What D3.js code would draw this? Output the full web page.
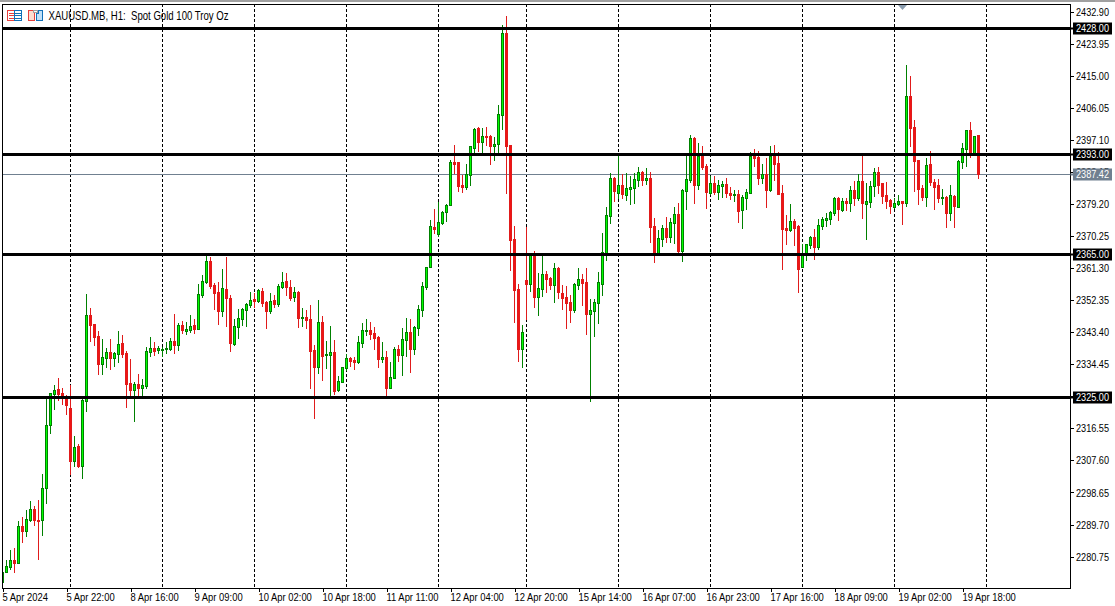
<!DOCTYPE html>
<html>
<head>
  <script src="https://d3js.org/d3.v7.js"></script>
  <style>
    html, body {
      margin: 0px;
      padding: 0px;
      background: #ffffff;
      overflow: hidden;
    }

    text {
      font-family: "Liberation Sans", Arial, sans-serif;
      font-size: 11px;
      fill: #000000;
    }

    .axis path { display: none; }
    .axis line { stroke: #000000; shape-rendering: crispEdges; }
    .axis text { font-family: "Liberation Sans", Arial, sans-serif; font-size: 11px; }
  </style>
</head>
<body>
  <div id="chart"></div>
  <script>

      /*
      DATA: hourly XAUUSD candles
      */
      const opens = [
        2273.5,2276.3,2277.7,2279.7,2278.8,2289.2,2287.8,2290.8,2293.9,2290.8,
        2290.8,2299.8,2317.4,2326.0,2327.4,2326.3,2324.9,2322.1,2307.3,2311.5,
        2305.9,2324.0,2348.0,2345.6,2342.2,2334.4,2336.1,2337.7,2336.1,2337.2,
        2340.2,2337.4,2329.1,2327.1,2328.8,2327.7,2328.2,2337.7,2338.8,2338.3,
        2338.3,2338.6,2338.6,2340.8,2339.7,2345.3,2343.6,2343.9,2345.3,2344.1,
        2353.6,2357.3,2363.1,2356.4,2354.5,2349.2,2355.3,2352.8,2340.0,2344.7,
        2346.9,2349.5,2350.8,2352.5,2352.0,2354.8,2351.7,2349.2,2352.2,2351.1,
        2355.9,2357.5,2355.9,2353.1,2354.5,2347.2,2347.5,2346.9,2338.3,2333.5,
        2346.1,2336.9,2336.9,2337.7,2327.1,2329.4,2333.3,2336.1,2335.5,2335.0,
        2340.2,2343.6,2343.9,2343.0,2341.9,2335.8,2336.3,2327.7,2330.5,2338.6,
        2336.9,2341.1,2343.3,2338.6,2344.4,2349.5,2355.9,2361.5,2372.6,2370.7,
        2373.7,2376.8,2378.8,2390.8,2390.8,2384.3,2383.8,2387.1,2394.7,2400.2,
        2396.3,2398.0,2398.0,2395.2,2395.8,2403.9,2426.8,2395.5,2369.3,2355.3,
        2338.6,2357.8,2356.7,2364.8,2353.1,2355.3,2359.5,2358.4,2356.4,2361.2,
        2354.2,2353.1,2351.7,2349.5,2356.4,2358.1,2357.3,2348.3,2349.2,2351.4,
        2356.7,2365.4,2375.7,2386.3,2382.1,2384.3,2381.5,2383.2,2383.5,2385.7,
        2388.0,2385.7,2386.3,2372.9,2365.4,2369.3,2372.3,2369.8,2373.7,2376.2,
        2365.9,2382.7,2385.7,2397.5,2384.3,2392.4,2389.6,2382.1,2384.9,2382.4,
        2384.1,2384.6,2382.1,2381.5,2381.8,2377.4,2380.7,2382.1,2392.4,2392.2,
        2386.3,2387.4,2382.9,2392.4,2390.5,2382.1,2372.3,2371.8,2374.3,2372.9,
        2361.5,2365.1,2367.6,2369.8,2367.0,2372.9,2374.6,2374.8,2376.5,2380.7,
        2377.4,2379.9,2379.3,2382.9,2380.7,2385.5,2379.0,2379.6,2384.1,2388.0,
        2384.9,2381.5,2380.2,2378.2,2379.0,2379.9,2379.3,2409.2,2400.5,2391.3,
        2383.5,2381.0,2390.2,2385.2,2384.3,2380.7,2381.0,2376.5,2381.3,2378.2,
        2390.8,2394.4,2399.7,2393.3,2398.3
      ];
      const highs = [
        2276.6,2279.7,2282.5,2283.0,2290.6,2291.7,2293.6,2296.1,2294.7,2296.4,
        2303.7,2324.6,2326.3,2328.5,2330.5,2327.7,2325.7,2328.5,2314.3,2312.0,
        2324.6,2353.9,2350.0,2345.6,2343.6,2341.4,2338.8,2341.4,2337.7,2343.6,
        2342.5,2338.0,2335.8,2329.4,2331.6,2330.2,2339.1,2341.9,2340.5,2339.4,
        2339.1,2340.5,2341.6,2348.3,2345.8,2346.4,2346.1,2348.0,2346.9,2356.7,
        2359.2,2364.8,2364.2,2357.0,2357.3,2360.9,2364.2,2353.6,2346.9,2349.7,
        2350.0,2351.4,2354.5,2354.2,2355.3,2355.6,2352.0,2354.2,2353.6,2356.7,
        2360.1,2359.8,2357.8,2355.9,2354.8,2350.0,2349.5,2350.8,2339.7,2352.2,
        2347.8,2340.8,2345.0,2341.1,2331.0,2333.5,2337.2,2336.3,2336.3,2342.2,
        2345.8,2346.9,2346.1,2344.7,2342.2,2340.5,2338.0,2335.0,2339.1,2339.7,
        2344.4,2347.2,2346.9,2345.0,2350.8,2357.3,2361.5,2374.6,2377.6,2379.6,
        2377.1,2379.0,2391.3,2395.5,2390.8,2387.1,2390.2,2395.2,2400.2,2400.5,
        2400.2,2400.5,2398.3,2397.7,2406.7,2429.0,2431.5,2395.5,2372.9,2356.7,
        2345.3,2372.6,2365.4,2365.9,2359.8,2364.8,2360.3,2358.7,2362.6,2361.5,
        2356.4,2356.2,2353.6,2357.0,2361.2,2359.5,2361.2,2352.5,2352.5,2360.1,
        2371.0,2378.2,2387.7,2386.6,2392.7,2387.4,2387.7,2386.8,2387.7,2389.4,
        2388.2,2389.1,2388.0,2375.1,2371.8,2373.2,2375.4,2375.1,2378.2,2379.3,
        2383.2,2392.4,2398.3,2397.7,2396.1,2395.2,2390.2,2386.8,2386.8,2385.7,
        2385.5,2386.3,2383.8,2382.9,2382.9,2381.5,2383.2,2393.5,2394.4,2393.8,
        2390.2,2391.9,2395.2,2395.5,2393.5,2384.3,2376.0,2379.0,2374.8,2373.2,
        2367.9,2367.9,2370.1,2372.1,2374.8,2375.4,2376.5,2377.1,2381.0,2381.0,
        2380.7,2380.7,2384.1,2385.5,2387.4,2392.4,2384.9,2385.5,2389.1,2389.4,
        2384.9,2385.2,2380.4,2380.7,2381.5,2379.9,2417.8,2414.8,2402.5,2391.3,
        2384.3,2391.9,2393.8,2386.0,2386.0,2383.2,2381.3,2384.3,2381.5,2391.3,
        2396.1,2399.7,2401.9,2398.0,2398.3
      ];
      const lows = [
        2273.5,2276.3,2277.2,2276.3,2278.8,2284.7,2286.4,2290.6,2289.4,2280.0,
        2286.6,2295.6,2315.1,2321.8,2324.3,2323.2,2320.4,2303.7,2305.9,2305.6,
        2302.6,2321.3,2340.8,2339.7,2331.6,2331.6,2333.5,2333.0,2333.8,2335.0,
        2336.3,2322.4,2325.2,2318.5,2325.2,2325.7,2327.7,2336.6,2336.9,2337.4,
        2336.6,2337.4,2338.3,2337.4,2338.3,2343.0,2342.8,2343.3,2343.0,2344.1,
        2353.1,2357.0,2355.6,2349.7,2345.6,2347.8,2345.0,2338.0,2339.7,2341.6,
        2345.3,2345.0,2350.3,2350.3,2351.7,2350.6,2344.4,2348.6,2350.3,2350.6,
        2355.6,2353.6,2352.2,2352.0,2344.7,2345.0,2344.4,2327.7,2319.3,2331.9,
        2329.9,2333.3,2325.2,2326.0,2326.8,2329.4,2332.7,2333.8,2333.0,2334.7,
        2339.1,2342.5,2341.4,2338.6,2333.5,2335.0,2325.2,2327.7,2330.5,2335.2,
        2331.3,2336.6,2332.1,2337.2,2342.5,2347.8,2355.3,2361.5,2371.0,2370.1,
        2373.5,2374.3,2378.8,2387.7,2382.7,2382.4,2383.2,2384.3,2393.3,2393.8,
        2393.3,2395.5,2390.2,2391.3,2393.3,2400.0,2382.1,2360.6,2346.1,2335.2,
        2333.5,2346.9,2354.8,2350.3,2348.0,2353.4,2354.5,2355.3,2351.7,2352.8,
        2349.7,2344.4,2346.1,2348.9,2355.3,2350.8,2342.8,2324.0,2342.2,2345.8,
        2353.6,2363.4,2373.7,2379.9,2380.7,2380.7,2380.2,2379.0,2379.3,2384.1,
        2384.3,2384.6,2368.4,2362.9,2365.4,2367.3,2368.4,2368.4,2368.1,2365.1,
        2363.1,2377.6,2385.2,2379.3,2383.2,2388.8,2377.9,2381.8,2381.8,2380.4,
        2381.0,2381.0,2380.4,2379.9,2374.0,2372.3,2377.6,2382.1,2389.6,2384.6,
        2384.9,2378.2,2382.7,2385.7,2381.8,2360.9,2367.9,2371.5,2367.6,2354.5,
        2361.5,2363.4,2366.8,2363.7,2366.5,2372.1,2372.9,2373.5,2376.0,2374.6,
        2377.1,2377.4,2377.1,2378.8,2380.2,2375.1,2369.3,2378.2,2381.3,2382.1,
        2379.3,2377.9,2376.5,2377.9,2378.8,2373.5,2378.5,2395.2,2382.7,2379.0,
        2380.2,2378.5,2384.3,2377.6,2379.6,2379.0,2372.6,2374.6,2372.6,2378.2,
        2389.1,2389.6,2392.2,2392.7,2386.3
      ];
      const closes = [
        2276.3,2278.0,2279.7,2278.8,2289.2,2287.8,2291.1,2293.9,2290.8,2290.6,
        2299.8,2317.4,2326.3,2327.1,2326.0,2325.5,2322.9,2307.3,2311.2,2305.9,
        2324.3,2348.0,2345.3,2341.9,2334.4,2336.3,2337.7,2336.1,2337.4,2340.0,
        2337.2,2328.8,2327.1,2328.8,2327.7,2328.5,2338.0,2338.8,2338.0,2338.8,
        2338.6,2338.8,2340.8,2339.7,2345.3,2343.9,2344.1,2345.0,2344.1,2353.9,
        2357.5,2363.1,2356.2,2354.2,2349.2,2355.6,2352.8,2340.2,2345.0,2347.2,
        2349.7,2351.1,2352.2,2352.0,2355.0,2351.4,2349.2,2352.0,2351.1,2356.2,
        2357.3,2355.9,2352.8,2354.5,2347.2,2347.5,2346.7,2338.0,2333.5,2346.1,
        2336.6,2337.2,2337.7,2326.8,2329.6,2333.5,2336.1,2335.2,2335.0,2340.5,
        2343.9,2343.9,2342.8,2341.6,2335.8,2336.3,2327.7,2330.8,2338.6,2336.9,
        2341.4,2343.3,2338.6,2344.7,2349.7,2356.2,2361.5,2372.9,2372.1,2374.0,
        2376.8,2378.8,2390.8,2390.2,2384.1,2383.8,2387.4,2395.2,2400.0,2396.3,
        2398.0,2397.7,2395.2,2395.8,2404.2,2426.8,2395.2,2369.0,2355.0,2338.6,
        2343.3,2356.7,2364.8,2353.1,2355.6,2359.5,2358.1,2356.4,2361.2,2354.5,
        2352.8,2351.4,2349.5,2356.7,2358.1,2357.0,2348.3,2349.5,2351.7,2357.3,
        2365.6,2376.0,2386.3,2382.7,2384.3,2381.8,2383.5,2383.8,2386.0,2388.0,
        2385.7,2386.3,2372.6,2365.4,2369.6,2372.3,2369.8,2374.0,2376.2,2365.9,
        2382.9,2386.0,2397.5,2384.3,2392.4,2389.4,2382.4,2384.9,2382.4,2384.3,
        2384.6,2382.1,2381.5,2381.8,2377.1,2381.0,2382.4,2392.4,2391.9,2386.3,
        2387.4,2382.9,2392.4,2390.2,2381.8,2372.1,2371.8,2374.3,2372.3,2360.9,
        2364.8,2367.9,2369.8,2367.0,2373.2,2374.8,2375.1,2376.8,2380.7,2377.6,
        2379.9,2379.3,2382.9,2380.7,2385.5,2379.3,2379.9,2384.1,2388.0,2384.3,
        2381.3,2379.9,2378.5,2379.3,2379.9,2379.3,2409.2,2400.2,2391.0,2383.2,
        2381.0,2389.9,2385.2,2383.8,2380.7,2381.0,2376.5,2381.5,2378.5,2391.0,
        2394.7,2399.7,2393.3,2398.0,2387.42
      ];

      const levels = [2428, 2393, 2365, 2325];
      const lastPrice = 2387.42;

      const priceTicks = [
        2432.90, 2423.95, 2415.00, 2406.05, 2397.10, 2388.15, 2379.20, 2370.25, 2361.30,
        2352.35, 2343.40, 2334.45, 2325.50, 2316.55, 2307.60, 2298.65, 2289.70, 2280.75
      ];
      const timeTickBars = [0, 16, 32, 48, 64, 80, 96, 112, 128, 144, 160, 176, 192, 208, 224, 240];
      const timeLabels = [
        "5 Apr 2024", "5 Apr 22:00", "8 Apr 16:00", "9 Apr 09:00", "10 Apr 02:00", "10 Apr 18:00",
        "11 Apr 11:00", "12 Apr 04:00", "12 Apr 20:00", "15 Apr 14:00", "16 Apr 07:00", "16 Apr 23:00",
        "17 Apr 16:00", "18 Apr 09:00", "19 Apr 02:00", "19 Apr 18:00"
      ];
      // bars where the period separators fall (the last one is past the newest candle)
      const gridBars = [17, 40, 63, 86, 109, 131, 154, 177, 200, 223, 246];

      const width = 1115;
      const height = 606;
      const plot = {left: 2, top: 4, right: 1070, bottom: 588};

      const svg = d3.select("#chart")
        .append("svg")
        .attr("width", width)
        .attr("height", height)
        .style("display", "block");

      /*
      SCALES
      */
      const xScale = d3.scaleLinear()
        .domain([0, 246])
        .range([2.5, 986.5]);

      const yScale = d3.scaleLinear()
        .domain([2280.75, 2432.90])
        .range([556.1, 11]);

      // snap to the middle of a pixel row so 1px strokes stay sharp
      const snapY = p => Math.round(yScale(p)) + 0.5;
      // the level lines sit a touch higher than plain rounding gives
      const levelY = p => Math.round(yScale(p) - 0.2) + 0.5;

      svg.append("defs").append("clipPath")
        .attr("id", "plotClip")
        .append("rect")
          .attr("x", plot.left)
          .attr("y", plot.top)
          .attr("width", plot.right - plot.left)
          .attr("height", plot.bottom - plot.top);

      // thin grey strip at the very top of the window
      svg.append("rect")
        .attr("x", 0).attr("y", 0)
        .attr("width", width).attr("height", 2)
        .attr("fill", "#a0a0a0");

      const inner = svg.append("g").attr("clip-path", "url(#plotClip)");

      /*
      PERIOD SEPARATORS + LAST PRICE LINE (behind the candles)
      */
      inner.selectAll(".grid")
        .data(gridBars)
        .enter()
        .append("line")
          .attr("class", "grid")
          .attr("x1", d => xScale(d))
          .attr("x2", d => xScale(d))
          .attr("y1", plot.top)
          .attr("y2", plot.bottom)
          .attr("stroke", "#000000")
          .attr("stroke-dasharray", "3,2")
          .attr("shape-rendering", "crispEdges");

      inner.append("line")
        .attr("x1", plot.left)
        .attr("x2", plot.right)
        .attr("y1", snapY(lastPrice))
        .attr("y2", snapY(lastPrice))
        .attr("stroke", "#708090")
        .attr("shape-rendering", "crispEdges");

      /*
      CANDLES
      */
      const candles = inner.selectAll(".candle")
        .data(opens.map((d, i) => i))
        .enter()
        .append("g")
          .attr("class", "candle")
          .attr("shape-rendering", "crispEdges");

      candles.append("line")
        .attr("x1", i => xScale(i))
        .attr("x2", i => xScale(i))
        .attr("y1", i => snapY(highs[i]) - 0.5)
        .attr("y2", i => snapY(lows[i]) + 0.5)
        .attr("stroke", i => closes[i] >= opens[i] ? "#008000" : "#e01b1b");

      candles.append("rect")
        .attr("x", i => xScale(i) - 1)
        .attr("y", i => Math.min(snapY(opens[i]), snapY(closes[i])))
        .attr("width", 2)
        .attr("height", i => Math.abs(snapY(opens[i]) - snapY(closes[i])))
        .attr("fill", i => closes[i] >= opens[i] ? "#00ff00" : "#f01414")
        .attr("stroke", i => closes[i] >= opens[i] ? "#008000" : "#e01b1b");

      /*
      HORIZONTAL LEVELS (on top of the candles)
      */
      inner.selectAll(".level")
        .data(levels)
        .enter()
        .append("line")
          .attr("class", "level")
          .attr("x1", plot.left)
          .attr("x2", plot.right)
          .attr("y1", d => levelY(d))
          .attr("y2", d => levelY(d))
          .attr("stroke", "#000000")
          .attr("stroke-width", 3)
          .attr("shape-rendering", "crispEdges");

      // frame
      svg.append("rect")
        .attr("x", plot.left + 0.5)
        .attr("y", plot.top + 0.5)
        .attr("width", plot.right - plot.left)
        .attr("height", plot.bottom - plot.top)
        .attr("fill", "none")
        .attr("stroke", "#000000")
        .attr("shape-rendering", "crispEdges");

      /*
      AXES
      */
      svg.append("g")
        .attr("class", "axis")
        .attr("transform", `translate(${plot.right},0.5)`)
        .call(d3.axisRight(yScale)
          .tickValues(priceTicks)
          .tickSize(4)
          .tickPadding(2)
          .tickFormat(d3.format(".2f")))
        .selectAll("text")
          .attr("textLength", 33)
          .attr("lengthAdjust", "spacingAndGlyphs");

      // the time labels are narrow in the reference, so squeeze them to fit
      svg.append("g")
        .attr("class", "axis")
        .attr("transform", `translate(0,${plot.bottom})`)
        .call(d3.axisBottom(xScale)
          .tickValues(timeTickBars)
          .tickSize(4)
          .tickFormat((d, i) => timeLabels[i]))
        .selectAll("text")
          .attr("text-anchor", "start")
          .attr("x", -0.5)
          .attr("y", 13)
          .attr("dy", 0)
          .each(function() {
            d3.select(this)
              .attr("textLength", this.getComputedTextLength() * 0.855)
              .attr("lengthAdjust", "spacingAndGlyphs");
          });

      /*
      PRICE TAGS ON THE RIGHT AXIS
      */
      const tags = levels.map(d => ({price: d, y: levelY(d), fill: "#000000"}))
        .concat([{price: lastPrice, y: snapY(lastPrice), fill: "#708090"}]);

      const tag = svg.selectAll(".tag")
        .data(tags)
        .enter()
        .append("g")
          .attr("class", "tag")
          .attr("transform", d => `translate(${plot.right},${d.y - 0.5})`);

      tag.append("rect")
        .attr("x", 0.5)
        .attr("y", -0.5)
        .attr("width", 4)
        .attr("height", 2)
        .attr("fill", d => d.fill);

      tag.append("rect")
        .attr("x", 3)
        .attr("y", -5.5)
        .attr("width", 39)
        .attr("height", 12)
        .attr("fill", d => d.fill);

      tag.append("text")
        .attr("x", 6)
        .attr("y", 4)
        .attr("textLength", 33)
        .attr("lengthAdjust", "spacingAndGlyphs")
        .style("fill", "#ffffff")
        .text(d => d3.format(".2f")(d.price));

      /*
      HEADER: icons and symbol text
      */
      const head = svg.append("g").attr("fill", "none").attr("shape-rendering", "crispEdges");

      head.append("rect").attr("x", 7.5).attr("y", 10.5).attr("width", 7).attr("height", 10).attr("stroke", "#e8403c");
      head.append("rect").attr("x", 14.5).attr("y", 10.5).attr("width", 7).attr("height", 10).attr("stroke", "#1070b8");
      [13.5, 15.5, 18.5].forEach(y => {
        head.append("line").attr("x1", 9).attr("x2", 14).attr("y1", y).attr("y2", y).attr("stroke", "#e8403c");
        head.append("line").attr("x1", 15).attr("x2", 21).attr("y1", y).attr("y2", y).attr("stroke", "#1070b8");
      });

      head.append("path")
        .attr("d", "M28.5,10.5H32.5L34.5,13.5V20.5H28.5Z")
        .attr("fill", "#fbdcd0")
        .attr("stroke", "#e8403c");
      head.append("path")
        .attr("d", "M36.5,13.5H38.5V10.5H42.5V20.5H36.5Z")
        .attr("fill", "#c0e0f8")
        .attr("stroke", "#1070b8");
      head.append("rect")
        .attr("x", 33.5).attr("y", 10.5).attr("width", 4).attr("height", 2)
        .attr("fill", "#ffffff").attr("stroke", "#a0a0a0");

      svg.append("text")
        .attr("x", 48.5)
        .attr("y", 20)
        .attr("textLength", 180)
        .attr("lengthAdjust", "spacingAndGlyphs")
        .style("white-space", "pre")
        .style("font-size", "12px")
        .text("XAUUSD.MB, H1:  Spot Gold 100 Troy Oz");

      /*
      SMALL MARKER AT THE TOP OF THE PLOT
      */
      svg.append("path")
        .attr("d", d3.line()([[898, 5], [907, 5], [902.5, 10]]) + "Z")
        .attr("fill", "#8a9cae");

  </script>
</body>
</html>
